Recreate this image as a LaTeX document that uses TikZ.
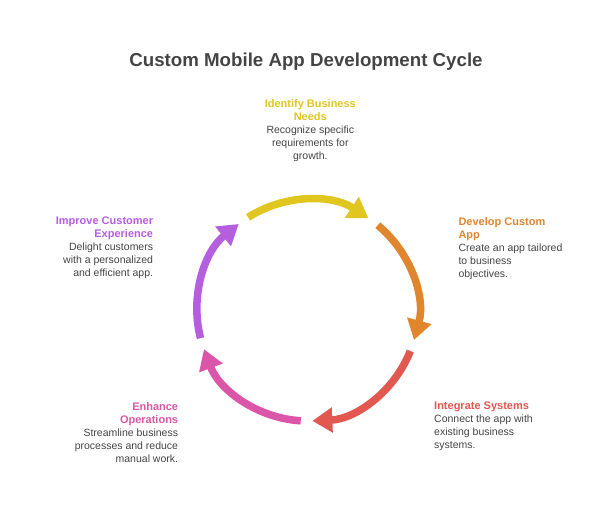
\documentclass[tikz,border=0pt]{standalone}
\usepackage{fontspec}
\setmainfont{Liberation Sans}
\usetikzlibrary{arrows.meta}
\definecolor{needc}{HTML}{E0C61E}
\definecolor{devc}{HTML}{E0862F}
\definecolor{intc}{HTML}{E2574F}
\definecolor{enhc}{HTML}{DB56A8}
\definecolor{impc}{HTML}{B55EE0}
\definecolor{bodyc}{HTML}{444444}
\definecolor{headc}{HTML}{444444}
\newcommand{\sttl}[2]{\textcolor{#1}{\fontsize{11}{13}\selectfont\bfseries #2}}
\tikzset{
  stepnote/.style={inner sep=0pt, text=bodyc, font=\fontsize{10.5}{13}\selectfont},
}
\begin{document}
\begin{tikzpicture}[x=1pt, y=1pt]
  \useasboundingbox (0,0) rectangle (612,513);
  \node[font=\fontsize{18.7}{22}\selectfont\bfseries, text=headc, inner sep=0pt, anchor=base] (title) at (306,446) {Custom Mobile App Development Cycle};
  \coordinate (cyc) at (307.5,202.5);
  \foreach \s/\col in {122.5/needc, 50.5/devc, -21.5/intc, -93.5/enhc, -165.5/impc}
    \draw[\col, line width=7.5pt, -{Triangle[width=24pt,length=20pt]}]
      (cyc) ++(\s:110.5) arc[start angle=\s, end angle=\s-66, radius=110.5];
  \node[stepnote, anchor=north, align=center] (need) at (310.3,413.5)
    {\sttl{needc}{Identify Business}\\ \sttl{needc}{Needs}\\ Recognize specific\\ requirements for\\ growth.};
  \node[stepnote, anchor=north west, align=left] (develop) at (458.3,296)
    {\sttl{devc}{Develop Custom}\\ \sttl{devc}{App}\\ Create an app tailored\\ to business\\ objectives.};
  \node[stepnote, anchor=north west, align=left] (integrate) at (434,111)
    {\sttl{intc}{Integrate Systems}\\ Connect the app with\\ existing business\\ systems.};
  \node[stepnote, anchor=north east, align=right] (enhance) at (178.3,111)
    {\sttl{enhc}{Enhance}\\ \sttl{enhc}{Operations}\\ Streamline business\\ processes and reduce\\ manual work.};
  \node[stepnote, anchor=north east, align=right] (improve) at (153.3,296)
    {\sttl{impc}{Improve Customer}\\ \sttl{impc}{Experience}\\ Delight customers\\ with a personalized\\ and efficient app.};
\end{tikzpicture}
\end{document}
